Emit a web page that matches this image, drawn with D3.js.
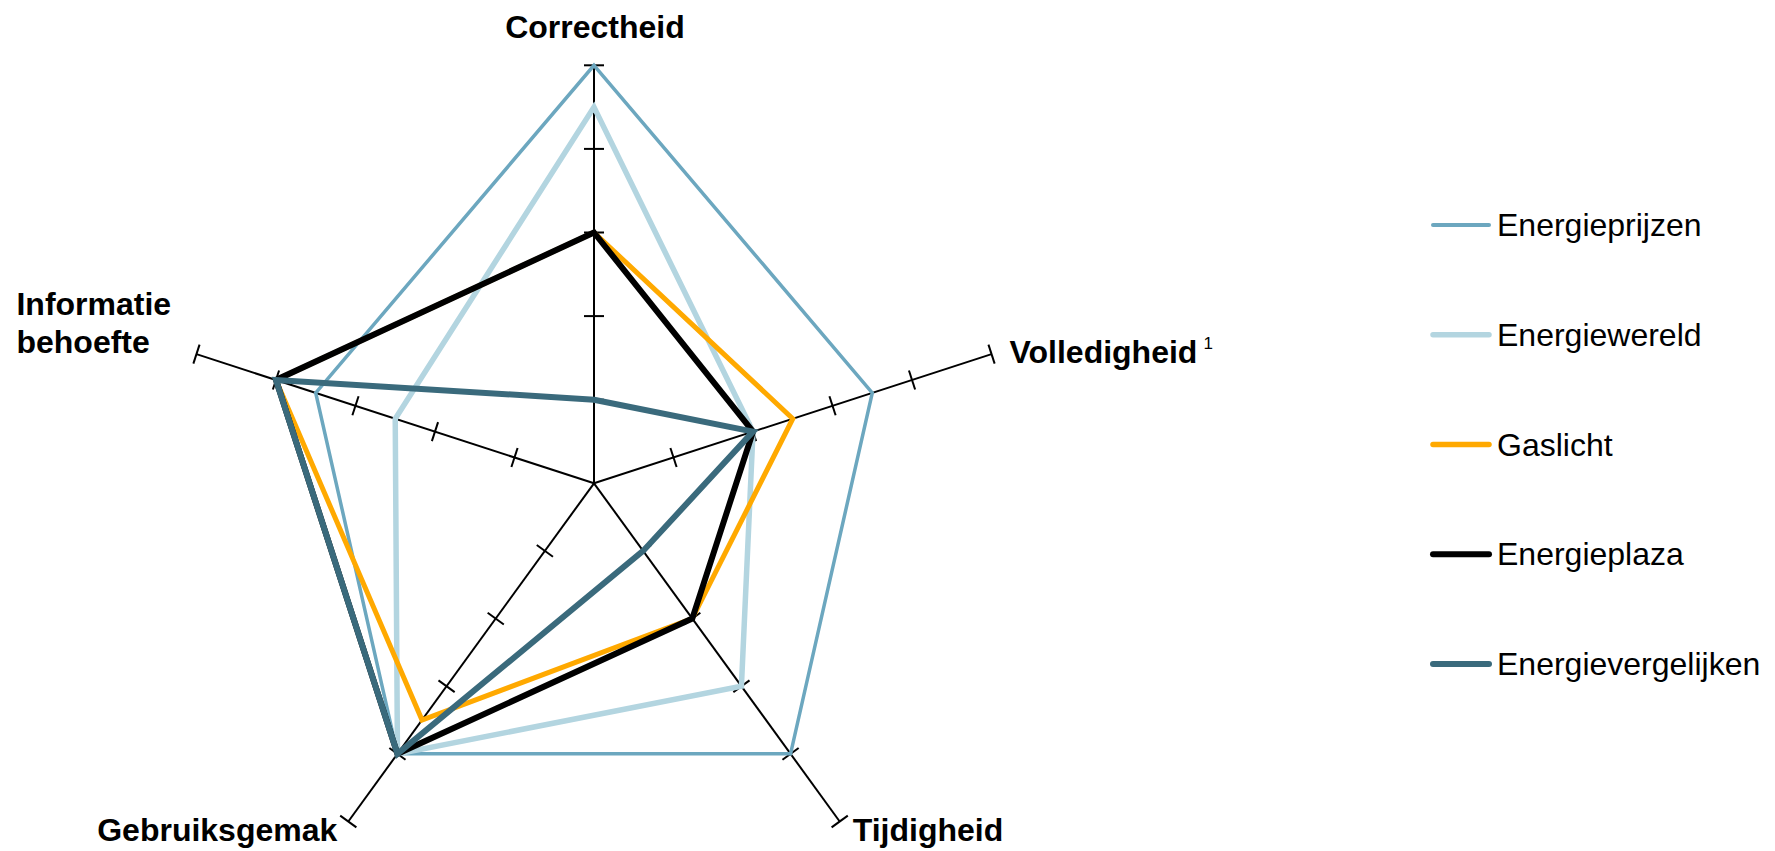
<!DOCTYPE html>
<html>
<head>
<meta charset="utf-8">
<script src="https://cdn.jsdelivr.net/npm/d3@7"></script>
<style>
  html, body { margin: 0; padding: 0; background: #fff; }
  svg { display: block; font-family: "Liberation Sans", Arial, sans-serif; }
</style>
</head>
<body>
<svg id="chart" width="1775" height="851"></svg>
<script>
// ---- data ----
const categories = ["Correctheid", "Volledigheid", "Tijdigheid", "Gebruiksgemak", "Informatie behoefte"];
const seriesNames = ["Energieprijzen", "Energiewereld", "Gaslicht", "Energieplaza", "Energievergelijken"];
const energieprijzen     = [5,   3.5, 4, 4,   3.5];
const energiewereld      = [4.5, 2,   3, 4,   2.5];
const gaslicht           = [3,   2.5, 2, 3.5, 4];
const energieplaza       = [3,   2,   2, 4,   4];
const energievergelijken = [1,   2,   1, 4,   4];
const tickValues = [1, 2, 3, 4, 5];

const seriesValues = [energieprijzen, energiewereld, gaslicht, energieplaza, energievergelijken];
const colors = ["#6CA7BF", "#B3D5E0", "#FFA900", "#000000", "#3A6A7C"];
const widths = [3.5, 5.5, 5, 6, 6];
const legendWidths = [4, 5.5, 5.5, 6, 6];

// ---- layout ----
const svg = d3.select("#chart");
const cx = 594, cy = 483.3, R = 418;
const r = d3.scaleLinear().domain([0, 5]).range([0, R]);
const angle = d3.scalePoint().domain(categories).range([-Math.PI / 2, -Math.PI / 2 + 2 * Math.PI * 4 / 5]);
const pt = (cat, v) => [cx + r(v) * Math.cos(angle(cat)), cy + r(v) * Math.sin(angle(cat))];

// axes
const axes = svg.append("g");
categories.forEach(cat => {
  const a = angle(cat);
  const [x2, y2] = pt(cat, 5);
  axes.append("line").attr("x1", cx).attr("y1", cy).attr("x2", x2).attr("y2", y2)
    .attr("stroke", "#000").attr("stroke-width", 2);
  tickValues.forEach(t => {
    const [tx, ty] = pt(cat, t);
    const px = -Math.sin(a) * 10, py = Math.cos(a) * 10;
    axes.append("line").attr("x1", tx - px).attr("y1", ty - py).attr("x2", tx + px).attr("y2", ty + py)
      .attr("stroke", "#000").attr("stroke-width", 2);
  });
});

// series
const line = d3.line().curve(d3.curveLinearClosed);
seriesValues.forEach((vals, i) => {
  svg.append("path")
    .attr("d", line(categories.map((c, j) => pt(c, vals[j]))))
    .attr("fill", "none")
    .attr("stroke", colors[i])
    .attr("stroke-width", widths[i])
    .attr("stroke-linejoin", "miter")
    .attr("stroke-miterlimit", 10);
});

// axis labels
const lab = svg.append("g").attr("font-weight", "bold").attr("font-size", 32).attr("fill", "#000");
const labelOffsets = {
  "Correctheid": { dx: 1, dy: -27, anchor: "middle" },
  "Volledigheid": { dx: 18, dy: 9, anchor: "start" },
  "Tijdigheid": { dx: 13, dy: 20, anchor: "start" },
  "Gebruiksgemak": { dx: -11, dy: 20, anchor: "end" },
  "Informatie behoefte": { dx: -180, dy: -39, anchor: "start" }
};
categories.forEach(cat => {
  const [ex, ey] = pt(cat, 5);
  const o = labelOffsets[cat];
  const t = lab.append("text").attr("x", ex + o.dx).attr("y", ey + o.dy).attr("text-anchor", o.anchor);
  if (cat === "Informatie behoefte") {
    t.append("tspan").attr("x", ex + o.dx).text("Informatie");
    t.append("tspan").attr("x", ex + o.dx).attr("dy", 38).text("behoefte");
  } else if (cat === "Volledigheid") {
    t.append("tspan").text(cat);
    t.append("tspan").attr("font-weight", "normal").attr("font-size", 17).attr("dx", 6).attr("dy", -14).text("1");
  } else {
    t.text(cat);
  }
});

// legend
const legend = svg.append("g");
const ly = d3.scalePoint().domain(seriesNames).range([225, 664]);
seriesNames.forEach((name, i) => {
  const y = ly(name);
  legend.append("line").attr("x1", 1433).attr("x2", 1489).attr("y1", y).attr("y2", y)
    .attr("stroke", colors[i]).attr("stroke-width", legendWidths[i]).attr("stroke-linecap", "round");
  legend.append("text").attr("x", 1497).attr("y", y + 11).attr("font-size", 32).attr("fill", "#000").text(name);
});
</script>
</body>
</html>
